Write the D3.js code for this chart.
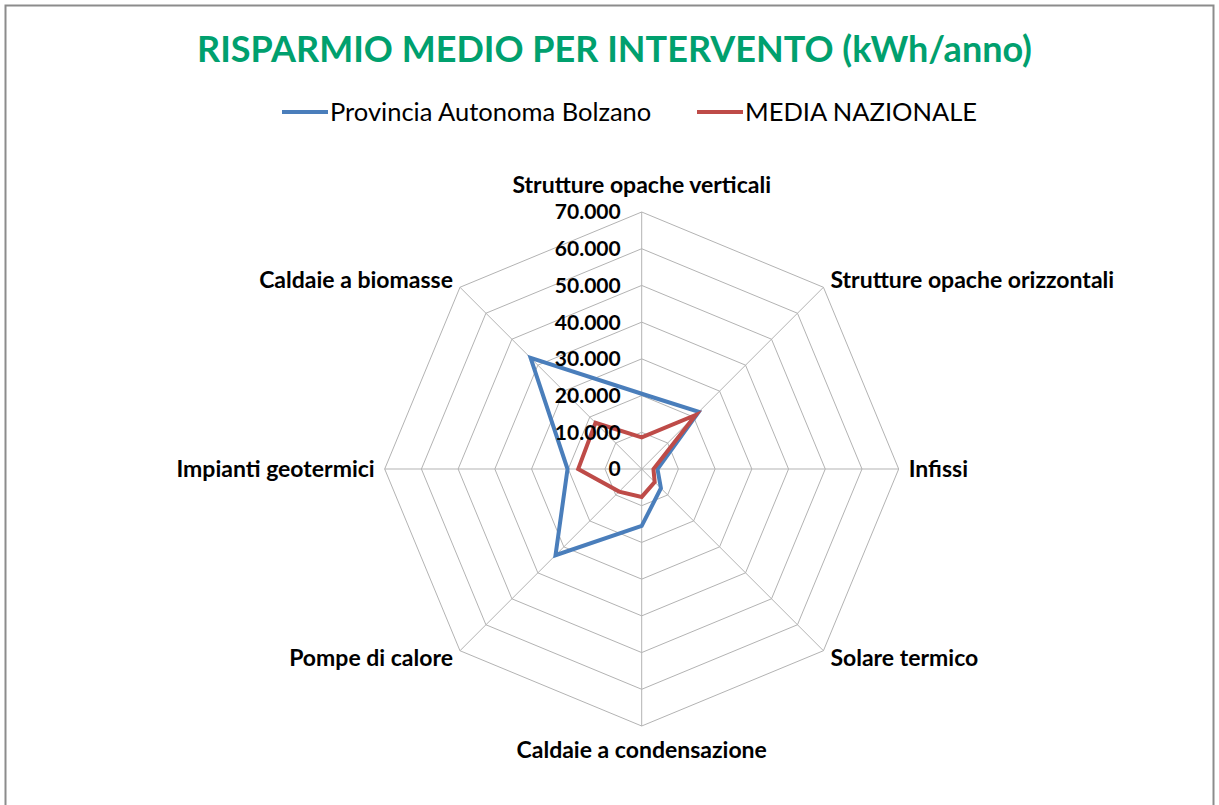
<!DOCTYPE html>
<html>
<head>
<meta charset="utf-8">
<script src="https://cdn.jsdelivr.net/npm/d3@7"></script>
<style>
  body { margin: 0; background: #fff; }
  text { font-family: Lato, "Open Sans", sans-serif; }
</style>
</head>
<body>
<svg id="chart" width="1219" height="805"></svg>
<script>
const categories = [
  "Strutture opache verticali",
  "Strutture opache orizzontali",
  "Infissi",
  "Solare termico",
  "Caldaie a condensazione",
  "Pompe di calore",
  "Impianti geotermici",
  "Caldaie a biomasse"
];
const bolzano = [20500, 22000, 4300, 7400, 15500, 33200, 20200, 42800];
const media = [8600, 20800, 3200, 5000, 7600, 8700, 17300, 17800];
const ticks = [0, 10000, 20000, 30000, 40000, 50000, 60000, 70000];
const seriesNames = ["Provincia Autonoma Bolzano", "MEDIA NAZIONALE"];

const width = 1219, height = 805;
const cx = 641.7, cy = 469, radius = 257;
const blue = "#4a7ebb", red = "#be4b48";

const svg = d3.select("#chart");

// frame
svg.append("rect")
  .attr("x", 5.5).attr("y", 5.5)
  .attr("width", 1208).attr("height", 810)
  .attr("fill", "none").attr("stroke", "#8c8c8c").attr("stroke-width", 2);

const r = d3.scaleLinear().domain([0, 70000]).range([0, radius]);
const angle = d3.scaleLinear().domain([0, categories.length]).range([0, 2 * Math.PI]);

const g = svg.append("g").attr("transform", `translate(${cx},${cy})`);

const px = (i, v) => Math.sin(angle(i)) * r(v);
const py = (i, v) => -Math.cos(angle(i)) * r(v);

// rings
const ring = d3.line().curve(d3.curveLinearClosed);
g.append("g").selectAll("path")
  .data(ticks.slice(1))
  .join("path")
    .attr("d", t => ring(categories.map((c, i) => [px(i, t), py(i, t)])))
    .attr("fill", "none")
    .attr("stroke", "#b3b3b3")
    .attr("stroke-width", 1);

// spokes
g.append("g").selectAll("line")
  .data(categories)
  .join("line")
    .attr("x1", 0).attr("y1", 0)
    .attr("x2", (c, i) => px(i, 70000))
    .attr("y2", (c, i) => py(i, 70000))
    .attr("stroke", "#b3b3b3")
    .attr("stroke-width", 1);

// series
const series = [
  {name: seriesNames[0], values: bolzano, color: blue},
  {name: seriesNames[1], values: media, color: red}
];
g.append("g").selectAll("path")
  .data(series)
  .join("path")
    .attr("d", s => ring(s.values.map((v, i) => [px(i, v), py(i, v)])))
    .attr("fill", "none")
    .attr("stroke", s => s.color)
    .attr("stroke-width", 4)
    .attr("stroke-linejoin", "miter");

// tick labels
const fmt = d3.formatLocale({decimal: ",", thousands: ".", grouping: [3], currency: ["", "€"]}).format(",d");
g.append("g").selectAll("text")
  .data(ticks)
  .join("text")
    .attr("x", -21)
    .attr("y", t => -r(t))
    .attr("dy", "0.35em")
    .attr("text-anchor", "end")
    .attr("font-size", 21)
    .attr("font-weight", "bold")
    .attr("fill", "#000")
    .text(t => fmt(t));

// category labels
g.append("g").selectAll("text")
  .data(categories)
  .join("text")
    .attr("x", (c, i) => {
      const s = Math.sin(angle(i)), x = px(i, 70000);
      if (Math.abs(s) < 0.1) return x;
      const off = Math.abs(s) > 0.9 ? 10 : 7;
      return x + (s > 0 ? off : -off);
    })
    .attr("y", (c, i) => {
      const co = Math.cos(angle(i)), y = py(i, 70000);
      if (co > 0.9) return y - 27;
      if (co < -0.9) return y + 24;
      return y - co * 10;
    })
    .attr("dy", "0.35em")
    .attr("text-anchor", (c, i) => {
      const s = Math.sin(angle(i));
      return Math.abs(s) < 0.1 ? "middle" : s > 0 ? "start" : "end";
    })
    .attr("font-size", 23)
    .attr("font-weight", "bold")
    .attr("fill", "#000")
    .text(c => c);

// title
svg.append("text")
  .attr("x", 614.5).attr("y", 62)
  .attr("text-anchor", "middle")
  .attr("font-size", 36)
  .attr("font-weight", "bold")
  .attr("fill", "#00a06e")
  .text("RISPARMIO MEDIO PER INTERVENTO (kWh/anno)");

// legend
const legend = svg.append("g");
const legendX = [282, 697];
series.forEach((s, i) => {
  legend.append("line")
    .attr("x1", legendX[i]).attr("x2", legendX[i] + 46)
    .attr("y1", 112).attr("y2", 112)
    .attr("stroke", s.color).attr("stroke-width", 4);
  legend.append("text")
    .attr("x", legendX[i] + 48).attr("y", 112)
    .attr("dy", "0.35em")
    .attr("font-size", 25.5)
    .attr("fill", "#000")
    .text(s.name);
});
</script>
</body>
</html>
